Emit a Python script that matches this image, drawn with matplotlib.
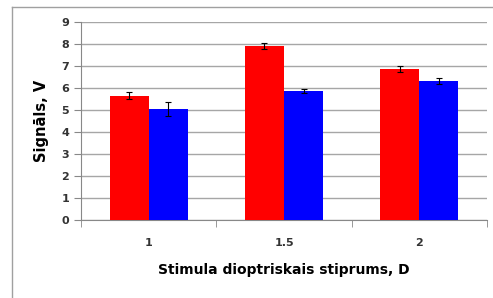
import numpy as np
import matplotlib.pyplot as plt
from matplotlib.lines import Line2D

categories = ['1', '1.5', '2']
red_vals = [5.65, 7.9, 6.85]
red_err = [0.15, 0.14, 0.14]
blue_vals = [5.05, 5.88, 6.3]
blue_err = [0.3, 0.09, 0.14]

W, H = 493, 298
fig = plt.figure(figsize=(W / 100, H / 100), dpi=100)
# axes box in pixels: x 81..487, y 22..220
ax = fig.add_axes([81 / W, 1 - 220 / H, (487 - 81) / W, (220 - 22) / H])

x = np.arange(len(categories))
bw = 39 / 135
ax.bar(x - bw / 2, red_vals, bw, color='#ff0000', yerr=red_err,
       error_kw=dict(ecolor='black', elinewidth=0.8, capsize=2.5, capthick=0.8), zorder=3)
ax.bar(x + bw / 2, blue_vals, bw, color='#0000ff', yerr=blue_err,
       error_kw=dict(ecolor='black', elinewidth=0.8, capsize=2.5, capthick=0.8), zorder=3)

ax.set_xlim(-0.5, len(categories) - 0.5)
ax.set_ylim(0, 9)
ax.set_yticks(range(0, 10))
ax.yaxis.grid(True, color='#a6a6a6', linewidth=1)
ax.set_axisbelow(True)

ax.set_xticks(x)
ax.set_xticklabels(categories)
ax.set_xticks(np.arange(-0.5, len(categories)), minor=True)
ax.tick_params(axis='x', which='major', length=0, pad=13, labelsize=8, labelcolor='#333333')
ax.tick_params(axis='x', which='minor', length=5, color='#888888', direction='out')
ax.tick_params(axis='y', length=5, color='#888888', labelsize=8, labelcolor='#333333')
for lbl in ax.get_xticklabels() + ax.get_yticklabels():
    lbl.set_fontweight('bold')

for s in ['top', 'right']:
    ax.spines[s].set_visible(False)
ax.spines['left'].set_color('#888888')
ax.spines['bottom'].set_color('#888888')

ax.set_xlabel('Stimula dioptriskais stiprums, D', fontsize=10, fontweight='bold', labelpad=11)
ax.set_ylabel('Signāls, V', fontsize=10.5, fontweight='bold', labelpad=9)

# outer chart border (cut off on right and bottom)
fig.add_artist(Line2D([12 / W, 1], [1 - 7 / H, 1 - 7 / H], transform=fig.transFigure,
                      color='#a0a0a0', linewidth=1))
fig.add_artist(Line2D([12 / W, 12 / W], [0, 1 - 7 / H], transform=fig.transFigure,
                      color='#a0a0a0', linewidth=1))

fig.savefig('out.png', dpi=100)
